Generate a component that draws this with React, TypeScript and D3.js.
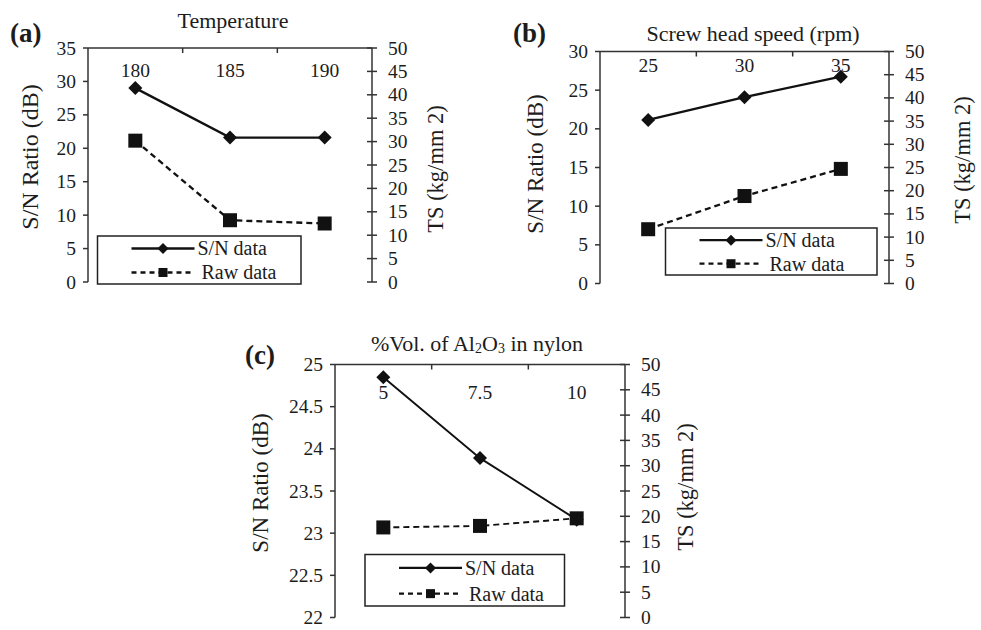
import React from "react";
import * as d3 from "d3";

// ---- data ----
const catsA = ["180", "185", "190"];
const snA = [29.0, 21.6, 21.6];
const rawA = [30.2, 13.2, 12.5];

const catsB = ["25", "30", "35"];
const snB = [21.15, 24.1, 26.75];
const rawB = [11.7, 18.85, 24.7];

const catsC = ["5", "7.5", "10"];
const snC = [24.85, 23.89, 23.16];
const rawC = [17.8, 18.1, 19.6];

const leftTicksA = [0, 5, 10, 15, 20, 25, 30, 35];
const leftTicksB = [0, 5, 10, 15, 20, 25, 30];
const leftTicksC = [22, 22.5, 23, 23.5, 24, 24.5, 25];
const rightTicks = [0, 5, 10, 15, 20, 25, 30, 35, 40, 45, 50];

const legendLabels = ["S/N data", "Raw data"];
const leftTitle = "S/N Ratio (dB)";
const rightTitle = "TS (kg/mm 2)";

const FONT = "'Liberation Serif', 'Times New Roman', serif";
const INK = "#1c1c1c";

type Panel = {
  letter: string;
  title: React.ReactNode;
  cats: string[];
  sn: number[];
  raw: number[];
  leftTicks: number[];
  leftDomain: [number, number];
  box: { l: number; r: number; t: number; b: number };
  catY: number;
  titlePos: [number, number];
  letterPos: [number, number];
  leftLabel: [number, number];
  rightLabel: [number, number];
  legend: { x0: number; y0: number; x1: number; y1: number };
  lw: number;
  leftFs: number;
};

const panels: Panel[] = [
  {
    letter: "(a)",
    title: "Temperature",
    cats: catsA,
    sn: snA,
    raw: rawA,
    leftTicks: leftTicksA,
    leftDomain: [0, 35],
    box: { l: 88, r: 372, t: 48, b: 282 },
    catY: 70,
    titlePos: [233, 20],
    letterPos: [10, 33],
    leftLabel: [30, 157],
    rightLabel: [435, 169],
    legend: { x0: 97.5, y0: 236, x1: 301, y1: 284 },
    lw: 2.3,
    leftFs: 24,
  },
  {
    letter: "(b)",
    title: "Screw head speed (rpm)",
    cats: catsB,
    sn: snB,
    raw: rawB,
    leftTicks: leftTicksB,
    leftDomain: [0, 30],
    box: { l: 600, r: 889, t: 51.5, b: 283.5 },
    catY: 65,
    titlePos: [753, 33],
    letterPos: [513, 33],
    leftLabel: [535, 164],
    rightLabel: [962, 160],
    legend: { x0: 665.5, y0: 228, x1: 877, y1: 275 },
    lw: 2.3,
    leftFs: 23,
  },
  {
    letter: "(c)",
    title: (
      <>
        %Vol. of Al<tspan dy={5} fontSize={14}>2</tspan>
        <tspan dy={-5}>O</tspan>
        <tspan dy={5} fontSize={14}>3</tspan>
        <tspan dy={-5}> in nylon</tspan>
      </>
    ),
    cats: catsC,
    sn: snC,
    raw: rawC,
    leftTicks: leftTicksC,
    leftDomain: [22, 25],
    box: { l: 335, r: 625, t: 364.5, b: 617.5 },
    catY: 392,
    titlePos: [477, 343],
    letterPos: [245, 355],
    leftLabel: [260, 483],
    rightLabel: [685, 487],
    legend: { x0: 365, y0: 554.5, x1: 564.5, y1: 606 },
    lw: 1.9,
    leftFs: 23,
  },
];

function diamond(cx: number, cy: number, r: number) {
  return `M${cx},${cy - r}L${cx + r},${cy}L${cx},${cy + r}L${cx - r},${cy}Z`;
}

function PanelView({ p }: { p: Panel }) {
  const { l, r, t, b } = p.box;
  const x = d3.scaleBand<string>().domain(p.cats).range([l, r]).padding(0);
  const yL = d3.scaleLinear().domain(p.leftDomain).range([b, t]);
  const yR = d3.scaleLinear().domain([0, 50]).range([b, t]);
  const cx = (c: string) => (x(c) as number) + x.bandwidth() / 2;

  const snPts = p.cats.map((c, i) => [cx(c), yL(p.sn[i])] as [number, number]);
  const rawPts = p.cats.map((c, i) => [cx(c), yR(p.raw[i])] as [number, number]);
  const line = d3.line();

  const boundaries = p.cats.slice(1).map((c) => x(c) as number);
  const lg = p.legend;
  const lgRow1 = lg.y0 + (lg.y1 - lg.y0) * 0.26;
  const lgRow2 = lg.y0 + (lg.y1 - lg.y0) * 0.76;
  const lgLineX0 = lg.x0 + 34;
  const lgLineX1 = lg.x0 + 97;
  const lgMid = (lgLineX0 + lgLineX1) / 2;

  return (
    <g fontFamily={FONT} fill={INK}>
      {/* panel letter */}
      <text x={p.letterPos[0]} y={p.letterPos[1]} fontSize={27} fontWeight="bold" dominantBaseline="central">
        {p.letter}
      </text>
      {/* title */}
      <text x={p.titlePos[0]} y={p.titlePos[1]} fontSize={22} textAnchor="middle" dominantBaseline="central">
        {p.title}
      </text>
      {/* axes */}
      <g stroke="#333" strokeWidth={1.5} fill="none">
        <line x1={l} x2={l} y1={t} y2={b} />
        <line x1={r} x2={r} y1={t} y2={b} />
        <line x1={l} x2={r} y1={t} y2={t} />
        {p.leftTicks.map((v) => (
          <line key={"lt" + v} x1={l - 5} x2={l} y1={yL(v)} y2={yL(v)} />
        ))}
        {rightTicks.map((v) => (
          <line key={"rt" + v} x1={r - 5} x2={r + 5} y1={yR(v)} y2={yR(v)} />
        ))}
        {boundaries.map((bx) => (
          <line key={"bt" + bx} x1={bx} x2={bx} y1={t} y2={t + 5} />
        ))}
      </g>
      {/* tick labels */}
      {p.leftTicks.map((v) => (
        <text key={"ll" + v} x={l - 12} y={yL(v)} fontSize={19.5} textAnchor="end" dominantBaseline="central">
          {String(v)}
        </text>
      ))}
      {rightTicks.map((v) => (
        <text key={"rl" + v} x={r + 16} y={yR(v)} fontSize={19.5} textAnchor="start" dominantBaseline="central">
          {String(v)}
        </text>
      ))}
      {p.cats.map((c) => (
        <text key={"c" + c} x={cx(c)} y={p.catY} fontSize={19.5} textAnchor="middle" dominantBaseline="central">
          {c}
        </text>
      ))}
      {/* axis titles */}
      <text
        transform={`translate(${p.leftLabel[0]},${p.leftLabel[1]}) rotate(-90)`}
        fontSize={p.leftFs}
        textAnchor="middle"
        dominantBaseline="central"
      >
        {leftTitle}
      </text>
      <text
        transform={`translate(${p.rightLabel[0]},${p.rightLabel[1]}) rotate(-90)`}
        fontSize={22.5}
        textAnchor="middle"
        dominantBaseline="central"
      >
        {rightTitle}
      </text>
      {/* series */}
      <path d={line(rawPts) || ""} fill="none" stroke="#111" strokeWidth={p.lw} strokeDasharray="6,4" />
      <path d={line(snPts) || ""} fill="none" stroke="#111" strokeWidth={p.lw} />
      {snPts.map(([px, py], i) => (
        <path key={"d" + i} d={diamond(px, py, 7)} fill="#111" />
      ))}
      {rawPts.map(([px, py], i) => (
        <rect key={"s" + i} x={px - 7} y={py - 7} width={14} height={14} fill="#111" />
      ))}
      {/* legend */}
      <rect x={lg.x0} y={lg.y0} width={lg.x1 - lg.x0} height={lg.y1 - lg.y0} fill="#fff" stroke="#222" strokeWidth={1.5} />
      <line x1={lgLineX0} x2={lgLineX1} y1={lgRow1} y2={lgRow1} stroke="#111" strokeWidth={2.3} />
      <path d={diamond(lgMid, lgRow1, 5.5)} fill="#111" />
      <text x={lgLineX1 + 3} y={lgRow1} fontSize={20} dominantBaseline="central">
        {legendLabels[0]}
      </text>
      <line x1={lgLineX0} x2={lgLineX1} y1={lgRow2} y2={lgRow2} stroke="#111" strokeWidth={2.3} strokeDasharray="5,4" />
      <rect x={lgMid - 4.5} y={lgRow2 - 4.5} width={9} height={9} fill="#111" />
      <text x={lgLineX1 + 7} y={lgRow2} fontSize={20} dominantBaseline="central">
        {legendLabels[1]}
      </text>
    </g>
  );
}

export default function App() {
  return (
    <svg
      width={981}
      height={630}
      viewBox="0 0 981 630"
      style={{ position: "absolute", left: 0, top: 0, background: "#fff" }}
    >
      <rect x={0} y={0} width={981} height={630} fill="#fff" />
      {panels.map((p) => (
        <PanelView key={p.letter} p={p} />
      ))}
    </svg>
  );
}
